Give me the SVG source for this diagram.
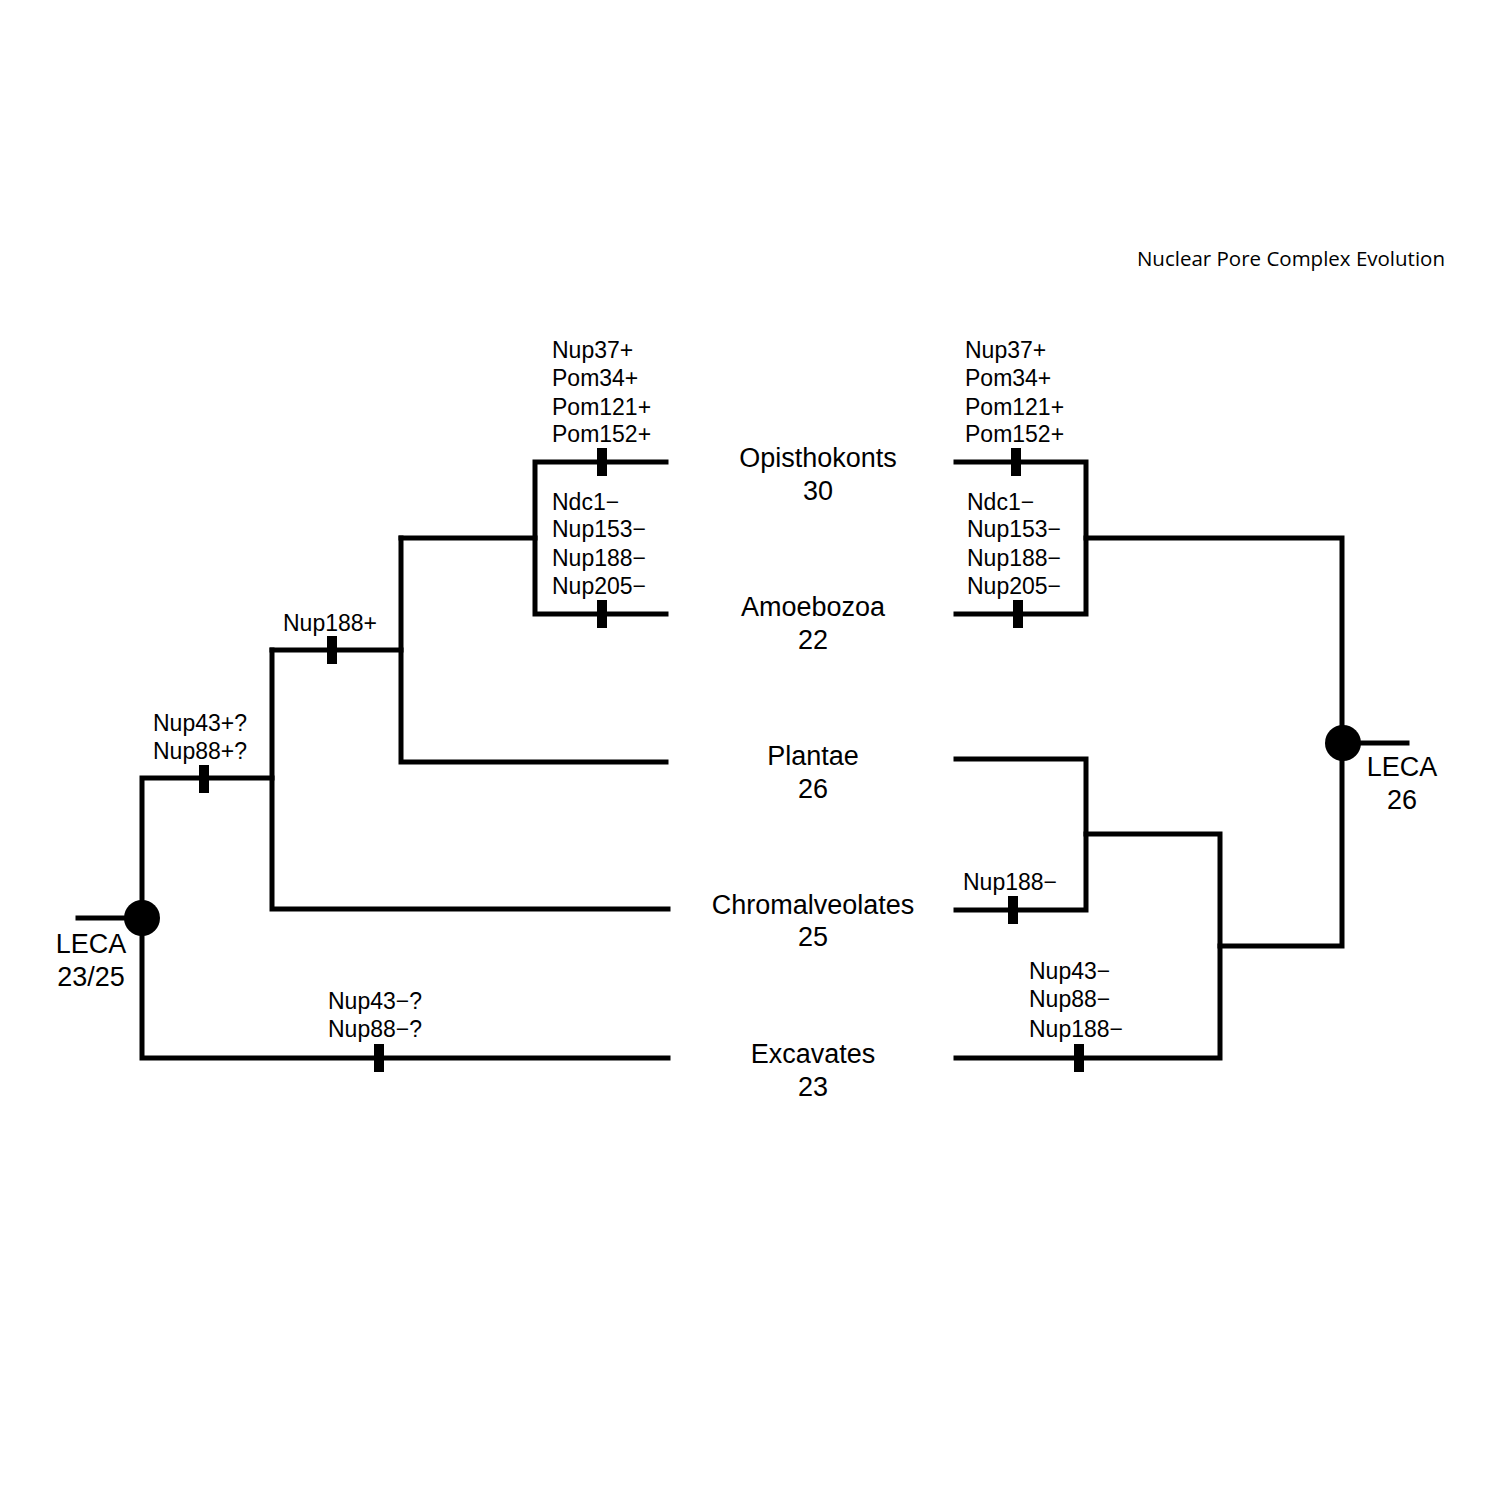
<svg xmlns="http://www.w3.org/2000/svg" width="1500" height="1500" viewBox="0 0 1500 1500">
<style>
.ln{stroke:#000;stroke-width:5;fill:none;stroke-linecap:square;stroke-linejoin:miter}
.tk{fill:#000}
.lab{font-family:"Liberation Sans",Arial,sans-serif;font-size:23px;fill:#000}
.tax{font-family:"Liberation Sans",Arial,sans-serif;font-size:27px;fill:#000;text-anchor:middle}
.title{font-family:"Open Sans","Noto Sans",sans-serif;font-size:20.5px;fill:#000;text-anchor:end}
</style>
<defs>
<rect id="tick" x="-5" y="-14" width="10" height="28"/>
</defs>
<rect width="1500" height="1500" fill="#fff"/>
<text class="title" x="1445" y="266">Nuclear Pore Complex Evolution</text>

<g id="connectors">
<!-- left tree -->
<path class="ln" d="M78 918 H142"/>
<path class="ln" d="M668 1058 H142 V778 H272"/>
<path class="ln" d="M272 650 V909 H668"/>
<path class="ln" d="M272 650 H401"/>
<path class="ln" d="M401 538 V762 H666"/>
<path class="ln" d="M401 538 H535"/>
<path class="ln" d="M666 462 H535 V614 H666"/>
<!-- right tree -->
<path class="ln" d="M956 462 H1086 V614 H956"/>
<path class="ln" d="M1086 538 H1342 V946 H1220"/>
<path class="ln" d="M1342 743 H1407"/>
<path class="ln" d="M956 759 H1086 V910 H956"/>
<path class="ln" d="M1086 834 H1220 V1058 H956"/>
<!-- ticks -->
<use href="#tick" class="tk" x="204" y="779"/>
<use href="#tick" class="tk" x="332" y="650"/>
<use href="#tick" class="tk" x="602" y="462"/>
<use href="#tick" class="tk" x="602" y="614"/>
<use href="#tick" class="tk" x="379" y="1058"/>
<use href="#tick" class="tk" x="1016" y="462"/>
<use href="#tick" class="tk" x="1018" y="614"/>
<use href="#tick" class="tk" x="1013" y="910"/>
<use href="#tick" class="tk" x="1079" y="1058"/>
</g>

<g id="leca-left">
<circle cx="142" cy="918" r="18" fill="#000"/>
<text class="tax" x="91" y="953">LECA</text>
<text class="tax" x="91" y="986">23/25</text>
</g>
<g id="leca-right">
<circle cx="1343" cy="743" r="18" fill="#000"/>
<text class="tax" x="1402" y="776">LECA</text>
<text class="tax" x="1402" y="809">26</text>
</g>

<g id="opisthokonts">
<text class="tax" x="818" y="467">Opisthokonts</text>
<text class="tax" x="818" y="500">30</text>
</g>
<g id="amoebozoa">
<text class="tax" x="813" y="616">Amoebozoa</text>
<text class="tax" x="813" y="649">22</text>
</g>
<g id="plantae">
<text class="tax" x="813" y="765">Plantae</text>
<text class="tax" x="813" y="798">26</text>
</g>
<g id="chromalveolates">
<text class="tax" x="813" y="914">Chromalveolates</text>
<text class="tax" x="813" y="946">25</text>
</g>
<g id="excavates">
<text class="tax" x="813" y="1063">Excavates</text>
<text class="tax" x="813" y="1096">23</text>
</g>

<g id="labels-left">
<text class="lab" x="552" y="358">Nup37+</text>
<text class="lab" x="552" y="386">Pom34+</text>
<text class="lab" x="552" y="415">Pom121+</text>
<text class="lab" x="552" y="442">Pom152+</text>
<text class="lab" x="552" y="510">Ndc1−</text>
<text class="lab" x="552" y="537">Nup153−</text>
<text class="lab" x="552" y="566">Nup188−</text>
<text class="lab" x="552" y="594">Nup205−</text>
<text class="lab" x="283" y="631">Nup188+</text>
<text class="lab" x="153" y="731">Nup43+?</text>
<text class="lab" x="153" y="759">Nup88+?</text>
<text class="lab" x="328" y="1009">Nup43−?</text>
<text class="lab" x="328" y="1037">Nup88−?</text>
</g>
<g id="labels-right">
<text class="lab" x="965" y="358">Nup37+</text>
<text class="lab" x="965" y="386">Pom34+</text>
<text class="lab" x="965" y="415">Pom121+</text>
<text class="lab" x="965" y="442">Pom152+</text>
<text class="lab" x="967" y="510">Ndc1−</text>
<text class="lab" x="967" y="537">Nup153−</text>
<text class="lab" x="967" y="566">Nup188−</text>
<text class="lab" x="967" y="594">Nup205−</text>
<text class="lab" x="963" y="890">Nup188−</text>
<text class="lab" x="1029" y="979">Nup43−</text>
<text class="lab" x="1029" y="1007">Nup88−</text>
<text class="lab" x="1029" y="1037">Nup188−</text>
</g>
</svg>
